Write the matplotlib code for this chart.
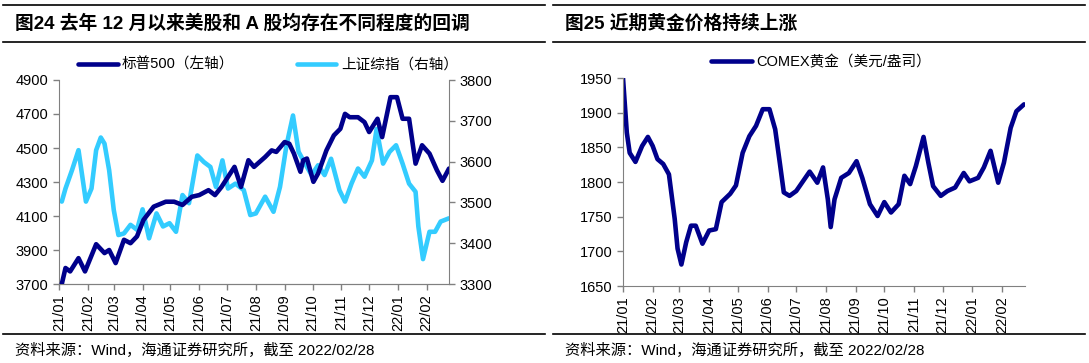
import matplotlib
matplotlib.use('Agg')
import matplotlib.pyplot as plt
import matplotlib.dates as mdates
from matplotlib.lines import Line2D
import pandas as pd

plt.rcParams['font.family'] = ['Liberation Sans', 'Noto Sans CJK SC']
plt.rcParams['axes.unicode_minus'] = False

# S&P 500 (left axis)
spx_dates = ['2021-01-04', '2021-01-08', '2021-01-13', '2021-01-22', '2021-01-29',
             '2021-02-10', '2021-02-19', '2021-02-24', '2021-03-03', '2021-03-12',
             '2021-03-19', '2021-03-26', '2021-04-02', '2021-04-13', '2021-04-26',
             '2021-05-05', '2021-05-14', '2021-05-24', '2021-06-01', '2021-06-11',
             '2021-06-18', '2021-06-25', '2021-07-09', '2021-07-16', '2021-07-24',
             '2021-07-30', '2021-08-11', '2021-08-18', '2021-08-23', '2021-09-01',
             '2021-09-06', '2021-09-11', '2021-09-18', '2021-09-21', '2021-09-25',
             '2021-10-02', '2021-10-07', '2021-10-16', '2021-10-24', '2021-10-31',
             '2021-11-05', '2021-11-10', '2021-11-19', '2021-11-26', '2021-12-01',
             '2021-12-10', '2021-12-15', '2021-12-24', '2021-12-31', '2022-01-06',
             '2022-01-13', '2022-01-20', '2022-01-27', '2022-02-04', '2022-02-12',
             '2022-02-18', '2022-02-25']
spx_values = [3700, 3794, 3774, 3852, 3774,
              3934, 3882, 3900, 3823, 3960,
              3940, 3980, 4077, 4155, 4184,
              4184, 4165, 4213, 4223, 4252,
              4223, 4271, 4389, 4271, 4428,
              4389, 4447, 4486, 4477, 4535,
              4525, 4467, 4360, 4428, 4438,
              4301, 4350, 4486, 4574, 4613,
              4701, 4681, 4681, 4652, 4594,
              4672, 4564, 4799, 4799, 4672,
              4672, 4408, 4516, 4467, 4369,
              4307, 4379]

# Shanghai Composite (right axis)
sh_dates = ['2021-01-04', '2021-01-08', '2021-01-15', '2021-01-22', '2021-01-30',
            '2021-02-05', '2021-02-10', '2021-02-15', '2021-02-19', '2021-02-24',
            '2021-03-01', '2021-03-06', '2021-03-12', '2021-03-19', '2021-03-26',
            '2021-04-01', '2021-04-08', '2021-04-16', '2021-04-23', '2021-04-30',
            '2021-05-07', '2021-05-14', '2021-05-21', '2021-05-30', '2021-06-06',
            '2021-06-13', '2021-06-19', '2021-06-26', '2021-07-02', '2021-07-10',
            '2021-07-19', '2021-07-26', '2021-08-01', '2021-08-11', '2021-08-20',
            '2021-08-27', '2021-09-03', '2021-09-10', '2021-09-16', '2021-09-25',
            '2021-09-30', '2021-10-07', '2021-10-14', '2021-10-21', '2021-10-30',
            '2021-11-05', '2021-11-12', '2021-11-19', '2021-11-26', '2021-12-04',
            '2021-12-09', '2021-12-16', '2021-12-23', '2021-12-30', '2022-01-06',
            '2022-01-13', '2022-01-20', '2022-01-23', '2022-01-28', '2022-02-04',
            '2022-02-10', '2022-02-16', '2022-02-25']
sh_values = [3502, 3534, 3579, 3628, 3502,
             3534, 3628, 3659, 3644, 3579,
             3481, 3420, 3424, 3445, 3433,
             3483, 3412, 3473, 3441, 3449,
             3428, 3518, 3498, 3615, 3599,
             3587, 3538, 3603, 3534, 3546,
             3530, 3469, 3473, 3514, 3477,
             3538, 3640, 3713, 3624, 3587,
             3567, 3591, 3567, 3607, 3530,
             3502, 3546, 3583, 3563, 3603,
             3680, 3595, 3624, 3640, 3595,
             3546, 3526, 3441, 3361, 3428,
             3428, 3453, 3461]

# COMEX gold (USD/oz)
gold_dates = ['2021-01-01', '2021-01-05', '2021-01-08', '2021-01-14', '2021-01-21',
              '2021-01-27', '2021-02-01', '2021-02-06', '2021-02-12', '2021-02-18',
              '2021-02-24', '2021-02-27', '2021-03-03', '2021-03-08', '2021-03-13',
              '2021-03-18', '2021-03-25', '2021-04-01', '2021-04-08', '2021-04-14',
              '2021-04-23', '2021-04-29', '2021-05-06', '2021-05-13', '2021-05-20',
              '2021-05-27', '2021-06-03', '2021-06-09', '2021-06-14', '2021-06-18',
              '2021-06-24', '2021-07-01', '2021-07-08', '2021-07-15', '2021-07-23',
              '2021-07-29', '2021-08-03', '2021-08-06', '2021-08-10', '2021-08-17',
              '2021-08-25', '2021-09-02', '2021-09-08', '2021-09-16', '2021-09-24',
              '2021-10-01', '2021-10-08', '2021-10-16', '2021-10-22', '2021-10-28',
              '2021-11-03', '2021-11-11', '2021-11-16', '2021-11-21', '2021-11-29',
              '2021-12-06', '2021-12-14', '2021-12-23', '2021-12-29', '2022-01-07',
              '2022-01-13', '2022-01-20', '2022-01-28', '2022-02-03', '2022-02-10',
              '2022-02-16', '2022-02-24']
gold_values = [1950, 1871, 1842, 1829, 1852,
               1865, 1852, 1833, 1826, 1811,
               1747, 1704, 1681, 1713, 1737,
               1737, 1711, 1730, 1732, 1771,
               1783, 1795, 1842, 1866, 1881,
               1905, 1905, 1876, 1826, 1785,
               1780, 1787, 1801, 1815, 1799,
               1821, 1775, 1735, 1775, 1806,
               1813, 1830, 1806, 1768, 1751,
               1771, 1756, 1768, 1809, 1797,
               1823, 1865, 1828, 1794, 1780,
               1787, 1792, 1813, 1801, 1806,
               1821, 1845, 1799, 1828, 1878,
               1902, 1912]

title_left = '图24 去年 12 月以来美股和 A 股均存在不同程度的回调'
title_right = '图25 近期黄金价格持续上涨'
source = '资料来源：Wind，海通证券研究所，截至 2022/02/28'

NAVY = '#00008B'
CYAN = '#33CCFF'
GREY = '#808080'
W, H = 1089, 363


def px_axes(fig, x0, x1, ytop, ybot):
    return fig.add_axes([x0 / W, 1 - ybot / H, (x1 - x0) / W, (ybot - ytop) / H])


def style_axis(ax):
    ax.spines['top'].set_visible(False)
    for s in ('left', 'right', 'bottom'):
        ax.spines[s].set_color(GREY)
    ax.tick_params(axis='both', direction='out', length=4, color=GREY,
                   labelsize=10.5, width=1)
    ax.xaxis.set_major_locator(mdates.MonthLocator())
    ax.xaxis.set_major_formatter(mdates.DateFormatter('%y/%m'))
    for lab in ax.get_xticklabels():
        lab.set_rotation(90)


fig = plt.figure(figsize=(W / 100, H / 100), dpi=100)

# frame lines and titles
for xa, xb in [(3, 545), (553, 1085)]:
    for yy in (5, 42, 334):
        fig.add_artist(Line2D([xa / W, xb / W], [1 - yy / H, 1 - yy / H],
                              color='black', lw=1.2))
fig.text(15 / W, 1 - 24 / H, title_left, fontsize=13.5, fontweight='bold', va='center')
fig.text(565 / W, 1 - 24 / H, title_right, fontsize=13.5, fontweight='bold', va='center')
fig.text(15 / W, 1 - 350 / H, source, fontsize=11, va='center')
fig.text(565 / W, 1 - 350 / H, source, fontsize=11, va='center')

# left chart
ax = px_axes(fig, 59, 449, 80, 284)
ax2 = ax.twinx()
l1, = ax.plot(pd.to_datetime(spx_dates), spx_values, color=NAVY, lw=3.3,
              solid_joinstyle='round', solid_capstyle='round', zorder=3)
l2, = ax2.plot(pd.to_datetime(sh_dates), sh_values, color=CYAN, lw=3.3,
               solid_joinstyle='round', solid_capstyle='round')
ax.set_zorder(ax2.get_zorder() + 1)
ax.patch.set_visible(False)
ax.set_ylim(3700, 4900)
ax.set_yticks([3700, 3900, 4100, 4300, 4500, 4700, 4900])
ax2.set_ylim(3300, 3800)
ax2.set_yticks([3300, 3400, 3500, 3600, 3700, 3800])
xlim = (pd.Timestamp('2021-01-01'), pd.Timestamp('2022-02-25'))
ax.set_xlim(xlim)
style_axis(ax)
style_axis(ax2)
ax2.spines['left'].set_visible(False)
ax.spines['right'].set_visible(False)
fig.legend([l1, l2], ['标普500（左轴）', '上证综指（右轴）'], loc='center',
           bbox_to_anchor=(268 / W, 1 - 65 / H), ncol=2, frameon=False,
           fontsize=10.5, handlelength=2.7, columnspacing=4.3, handletextpad=0.3)

# right chart
bx = px_axes(fig, 623, 1025, 78, 286)
g1, = bx.plot(pd.to_datetime(gold_dates), gold_values, color=NAVY, lw=3.3,
              solid_joinstyle='round', solid_capstyle='round')
bx.set_ylim(1650, 1950)
bx.set_yticks([1650, 1700, 1750, 1800, 1850, 1900, 1950])
bx.set_xlim(xlim)
style_axis(bx)
bx.spines['right'].set_visible(False)
fig.legend([g1], ['COMEX黄金（美元/盎司）'], loc='center',
           bbox_to_anchor=(821 / W, 1 - 62 / H), frameon=False,
           fontsize=10.5, handlelength=2.8, handletextpad=0.3)

fig.savefig('out.png', dpi=100)
